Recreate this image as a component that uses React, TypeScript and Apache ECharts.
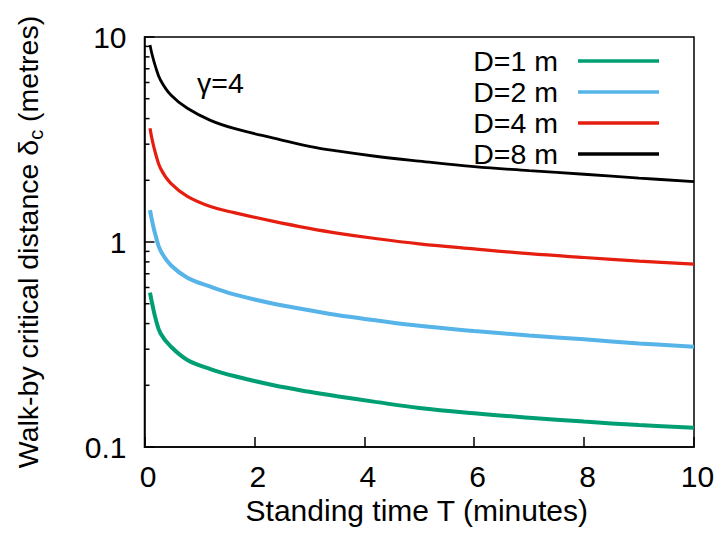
import React, { useEffect, useRef } from "react";
import * as echarts from "echarts";

const T = [0.1, 0.14, 0.2, 0.29, 0.48, 0.78, 1.2, 1.63, 2.35, 3, 3.5, 4.2, 5, 6, 7, 8, 9, 10];
const d1 = [0.566, 0.5, 0.425, 0.359, 0.309, 0.266, 0.24, 0.222, 0.2, 0.186, 0.177, 0.166, 0.155, 0.146, 0.139, 0.133, 0.128, 0.124];
const d2 = [1.43, 1.26, 1.08, 0.91, 0.77, 0.67, 0.605, 0.555, 0.5, 0.465, 0.44, 0.415, 0.39, 0.368, 0.35, 0.335, 0.32, 0.308];
const d4 = [3.59, 3.15, 2.71, 2.29, 1.93, 1.67, 1.49, 1.39, 1.26, 1.165, 1.105, 1.04, 0.98, 0.925, 0.877, 0.84, 0.807, 0.78];
const d8 = [9.14, 8.17, 7.17, 6.17, 5.21, 4.49, 3.92, 3.58, 3.21, 2.93, 2.78, 2.62, 2.48, 2.33, 2.23, 2.14, 2.05, 1.97];
const seriesNames = ["D=1 m", "D=2 m", "D=4 m", "D=8 m"];
const seriesColors = ["#009E73", "#56B4E9", "#E51E10", "#000000"];
const seriesWidths = [4, 4, 3.2, 2.8];
const yMinorTicks = [0.2, 0.3, 0.4, 0.5, 0.6, 0.7, 0.8, 0.9, 2, 3, 4, 5, 6, 7, 8, 9];
const yTickLabels: Record<string, string> = { "0.1": "0.1", "1": "1", "10": "10" };

const FONT = "Liberation Sans, Arial, Helvetica, sans-serif";
const FS = 28.5;
const TICK_FS = 30;

export default function App() {
  const ref = useRef<HTMLDivElement>(null);
  useEffect(() => {
    if (!ref.current) return;
    const chart = echarts.init(ref.current, null, { renderer: "svg" });
    const all = [d1, d2, d4, d8];
    const lineSeries = all.map((arr, i) => ({
      name: seriesNames[i],
      type: "line",
      data: T.map((t, j) => [t, arr[j]]),
      showSymbol: false,
      smooth: 0.4,
      lineStyle: { color: seriesColors[i], width: seriesWidths[i] },
      itemStyle: { color: seriesColors[i] },
      z: 3 + i,
    }));
    chart.setOption({
      animation: false,
      textStyle: { fontFamily: FONT },
      grid: {
        left: 144.5,
        right: 30,
        top: 37,
        bottom: 99,
        show: true,
        borderColor: "#000",
        borderWidth: 1.5,
        backgroundColor: "transparent",
      },
      legend: {
        data: seriesNames,
        orient: "vertical",
        right: 65,
        top: 46.5,
        padding: 0,
        align: "right",
        icon: "rect",
        itemWidth: 81,
        itemHeight: 3.5,
        itemGap: 2,
        selectedMode: false,
        textStyle: {
          fontSize: FS,
          lineHeight: 28,
          color: "#000",
          fontFamily: FONT,
          padding: [0, 15, 0, 0],
        },
      },
      xAxis: {
        type: "value",
        min: 0,
        max: 10,
        interval: 2,
        name: "Standing time T (minutes)",
        nameLocation: "middle",
        nameGap: 39,
        nameTextStyle: { fontSize: 30, color: "#000", fontFamily: FONT, padding: [0, 5, 0, 0] },
        axisLine: { show: true, lineStyle: { color: "#000", width: 1.5 } },
        axisTick: { show: true, inside: true, length: 10, lineStyle: { color: "#000", width: 1.5 } },
        axisLabel: { fontSize: TICK_FS, color: "#000", margin: 14, padding: [0, 0, 0, 7], fontFamily: FONT },
        splitLine: { show: false },
      },
      yAxis: {
        type: "log",
        logBase: 10,
        min: 0.1,
        max: 10,
        splitNumber: 2,
        name: "{a|Walk-by critical distance δ}{b|c}{a| (metres)}",
        nameLocation: "middle",
        nameGap: 99,
        nameTextStyle: {
          color: "#000",
          rich: {
            a: { fontSize: FS, color: "#000", fontFamily: FONT },
            b: { fontSize: 20, color: "#000", fontFamily: FONT, verticalAlign: "bottom", lineHeight: 36 },
          },
        },
        axisLine: { show: true, lineStyle: { color: "#000", width: 1.5 } },
        axisTick: { show: true, inside: true, length: 10, lineStyle: { color: "#000", width: 1.5 } },
        axisLabel: {
          fontSize: TICK_FS,
          color: "#000",
          margin: 18,
          fontFamily: FONT,
          formatter: (v: number) => {
            const k = String(Math.round(v * 1000) / 1000);
            return yTickLabels[k] ?? k;
          },
        },
        splitLine: { show: false },
      },
      graphic: [
        {
          type: "text",
          x: 197,
          y: 83,
          style: { text: "γ=4", fontSize: FS, fontFamily: FONT, fill: "#000", verticalAlign: "middle" },
          z: 10,
        },
      ],
      series: [
        ...lineSeries,
        {
          type: "custom",
          name: "minorTicks",
          silent: true,
          data: yMinorTicks.map((v) => [0, v]),
          encode: { x: 0, y: 1 },
          renderItem: (_params: any, api: any) => {
            const p = api.coord([0, api.value(1)]);
            return {
              type: "line",
              shape: { x1: p[0], y1: p[1], x2: p[0] + 5, y2: p[1] },
              style: { stroke: "#000", lineWidth: 1.5 },
            };
          },
          z: 2,
        },
      ],
    });
    return () => chart.dispose();
  }, []);
  return (
    <div
      ref={ref}
      style={{ position: "fixed", left: 0, top: 0, width: 724, height: 546, background: "#fff" }}
    />
  );
}
